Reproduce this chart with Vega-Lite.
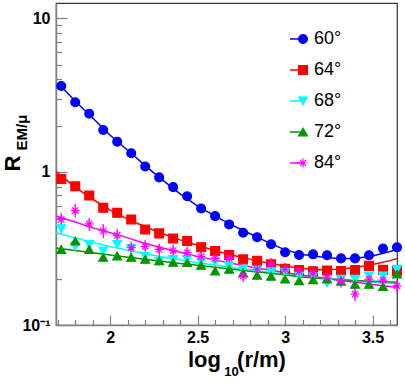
{
  "$schema": "https://vega.github.io/schema/vega-lite/v6.json",
  "width": 341,
  "height": 322,
  "autosize": {"type": "none"},
  "padding": {"left": 56, "top": 3, "right": 8, "bottom": 57},
  "config": {
    "view": {"stroke": "#333333", "strokeWidth": 1.2},
    "font": "Liberation Sans",
    "axis": {
      "grid": false,
      "labelFont": "Liberation Sans",
      "labelFontWeight": "bold",
      "labelFontSize": 16,
      "labelColor": "#000000",
      "titleFont": "Liberation Sans",
      "titleFontWeight": "bold",
      "titleColor": "#000000",
      "domainColor": "#808080",
      "domainWidth": 1.5,
      "tickColor": "#808080",
      "tickWidth": 1.2,
      "labelFlush": false
    }
  },
  "datasets": {
    "pts": [
      {"a": "60°", "x": 1.72, "y": 3.62}, {"a": "60°", "x": 1.80, "y": 2.84}, {"a": "60°", "x": 1.88, "y": 2.39}, {"a": "60°", "x": 1.96, "y": 1.87}, {"a": "60°", "x": 2.04, "y": 1.57},
      {"a": "60°", "x": 2.12, "y": 1.32}, {"a": "60°", "x": 2.20, "y": 1.08}, {"a": "60°", "x": 2.28, "y": 0.918}, {"a": "60°", "x": 2.36, "y": 0.793}, {"a": "60°", "x": 2.44, "y": 0.691},
      {"a": "60°", "x": 2.52, "y": 0.575}, {"a": "60°", "x": 2.60, "y": 0.513}, {"a": "60°", "x": 2.68, "y": 0.453}, {"a": "60°", "x": 2.76, "y": 0.400}, {"a": "60°", "x": 2.84, "y": 0.374},
      {"a": "60°", "x": 2.92, "y": 0.336}, {"a": "60°", "x": 3.00, "y": 0.298}, {"a": "60°", "x": 3.08, "y": 0.286}, {"a": "60°", "x": 3.16, "y": 0.289}, {"a": "60°", "x": 3.24, "y": 0.285},
      {"a": "60°", "x": 3.32, "y": 0.272}, {"a": "60°", "x": 3.40, "y": 0.272}, {"a": "60°", "x": 3.48, "y": 0.285}, {"a": "60°", "x": 3.56, "y": 0.315}, {"a": "60°", "x": 3.64, "y": 0.321},

      {"a": "64°", "x": 1.72, "y": 0.897}, {"a": "64°", "x": 1.80, "y": 0.803}, {"a": "64°", "x": 1.88, "y": 0.699}, {"a": "64°", "x": 1.96, "y": 0.581}, {"a": "64°", "x": 2.04, "y": 0.539},
      {"a": "64°", "x": 2.12, "y": 0.488}, {"a": "64°", "x": 2.20, "y": 0.420}, {"a": "64°", "x": 2.28, "y": 0.396}, {"a": "64°", "x": 2.36, "y": 0.367}, {"a": "64°", "x": 2.44, "y": 0.353},
      {"a": "64°", "x": 2.52, "y": 0.322}, {"a": "64°", "x": 2.60, "y": 0.304}, {"a": "64°", "x": 2.68, "y": 0.286}, {"a": "64°", "x": 2.76, "y": 0.268}, {"a": "64°", "x": 2.84, "y": 0.262},
      {"a": "64°", "x": 2.92, "y": 0.249}, {"a": "64°", "x": 3.00, "y": 0.233}, {"a": "64°", "x": 3.08, "y": 0.228}, {"a": "64°", "x": 3.16, "y": 0.224}, {"a": "64°", "x": 3.24, "y": 0.227},
      {"a": "64°", "x": 3.32, "y": 0.225}, {"a": "64°", "x": 3.40, "y": 0.228}, {"a": "64°", "x": 3.48, "y": 0.243}, {"a": "64°", "x": 3.56, "y": 0.229}, {"a": "64°", "x": 3.64, "y": 0.225},

      {"a": "68°", "x": 1.72, "y": 0.425, "lo": 0.40, "hi": 0.45}, {"a": "68°", "x": 1.80, "y": 0.327, "lo": 0.307, "hi": 0.347}, {"a": "68°", "x": 1.88, "y": 0.336, "lo": 0.316, "hi": 0.356},
      {"a": "68°", "x": 1.96, "y": 0.304, "lo": 0.286, "hi": 0.322}, {"a": "68°", "x": 2.04, "y": 0.336, "lo": 0.316, "hi": 0.356}, {"a": "68°", "x": 2.12, "y": 0.315, "lo": 0.296, "hi": 0.334},
      {"a": "68°", "x": 2.20, "y": 0.281, "lo": 0.264, "hi": 0.298}, {"a": "68°", "x": 2.28, "y": 0.260, "lo": 0.244, "hi": 0.276}, {"a": "68°", "x": 2.36, "y": 0.268, "lo": 0.252, "hi": 0.284},
      {"a": "68°", "x": 2.44, "y": 0.268, "lo": 0.252, "hi": 0.284}, {"a": "68°", "x": 2.52, "y": 0.259, "lo": 0.243, "hi": 0.275}, {"a": "68°", "x": 2.60, "y": 0.259, "lo": 0.243, "hi": 0.275},
      {"a": "68°", "x": 2.68, "y": 0.243, "lo": 0.228, "hi": 0.258}, {"a": "68°", "x": 2.76, "y": 0.231, "lo": 0.217, "hi": 0.245}, {"a": "68°", "x": 2.84, "y": 0.229, "lo": 0.215, "hi": 0.243},
      {"a": "68°", "x": 2.92, "y": 0.224, "lo": 0.210, "hi": 0.238}, {"a": "68°", "x": 3.00, "y": 0.220, "lo": 0.207, "hi": 0.233}, {"a": "68°", "x": 3.08, "y": 0.209, "lo": 0.196, "hi": 0.222},
      {"a": "68°", "x": 3.16, "y": 0.207, "lo": 0.195, "hi": 0.219}, {"a": "68°", "x": 3.24, "y": 0.188, "lo": 0.177, "hi": 0.199}, {"a": "68°", "x": 3.32, "y": 0.199, "lo": 0.187, "hi": 0.211},
      {"a": "68°", "x": 3.40, "y": 0.199, "lo": 0.187, "hi": 0.211}, {"a": "68°", "x": 3.48, "y": 0.209, "lo": 0.196, "hi": 0.222}, {"a": "68°", "x": 3.56, "y": 0.209, "lo": 0.196, "hi": 0.222},
      {"a": "68°", "x": 3.64, "y": 0.231, "lo": 0.217, "hi": 0.245},

      {"a": "72°", "x": 1.72, "y": 0.311, "lo": 0.292, "hi": 0.330}, {"a": "72°", "x": 1.80, "y": 0.353, "lo": 0.332, "hi": 0.374}, {"a": "72°", "x": 1.88, "y": 0.311, "lo": 0.292, "hi": 0.330},
      {"a": "72°", "x": 1.96, "y": 0.276, "lo": 0.259, "hi": 0.293}, {"a": "72°", "x": 2.04, "y": 0.282, "lo": 0.265, "hi": 0.299}, {"a": "72°", "x": 2.12, "y": 0.276, "lo": 0.259, "hi": 0.293},
      {"a": "72°", "x": 2.20, "y": 0.268, "lo": 0.252, "hi": 0.284}, {"a": "72°", "x": 2.28, "y": 0.262, "lo": 0.246, "hi": 0.278}, {"a": "72°", "x": 2.36, "y": 0.256, "lo": 0.241, "hi": 0.271},
      {"a": "72°", "x": 2.44, "y": 0.255, "lo": 0.240, "hi": 0.270}, {"a": "72°", "x": 2.52, "y": 0.245, "lo": 0.230, "hi": 0.260}, {"a": "72°", "x": 2.60, "y": 0.225, "lo": 0.212, "hi": 0.238},
      {"a": "72°", "x": 2.68, "y": 0.231, "lo": 0.217, "hi": 0.245}, {"a": "72°", "x": 2.76, "y": 0.218, "lo": 0.205, "hi": 0.231}, {"a": "72°", "x": 2.84, "y": 0.211, "lo": 0.198, "hi": 0.224},
      {"a": "72°", "x": 2.92, "y": 0.208, "lo": 0.196, "hi": 0.220}, {"a": "72°", "x": 3.00, "y": 0.199, "lo": 0.187, "hi": 0.211}, {"a": "72°", "x": 3.08, "y": 0.194, "lo": 0.182, "hi": 0.206},
      {"a": "72°", "x": 3.16, "y": 0.197, "lo": 0.185, "hi": 0.209}, {"a": "72°", "x": 3.24, "y": 0.199, "lo": 0.187, "hi": 0.211}, {"a": "72°", "x": 3.32, "y": 0.193, "lo": 0.181, "hi": 0.205},
      {"a": "72°", "x": 3.40, "y": 0.184, "lo": 0.173, "hi": 0.195}, {"a": "72°", "x": 3.48, "y": 0.184, "lo": 0.173, "hi": 0.195}, {"a": "72°", "x": 3.56, "y": 0.178, "lo": 0.167, "hi": 0.189},
      {"a": "72°", "x": 3.64, "y": 0.215, "lo": 0.202, "hi": 0.228},

      {"a": "84°", "x": 1.72, "y": 0.488, "lo": 0.44, "hi": 0.54}, {"a": "84°", "x": 1.80, "y": 0.558, "lo": 0.50, "hi": 0.62}, {"a": "84°", "x": 1.88, "y": 0.457, "lo": 0.41, "hi": 0.50},
      {"a": "84°", "x": 1.96, "y": 0.412, "lo": 0.37, "hi": 0.455}, {"a": "84°", "x": 2.04, "y": 0.384, "lo": 0.345, "hi": 0.425}, {"a": "84°", "x": 2.12, "y": 0.320, "lo": 0.29, "hi": 0.35},
      {"a": "84°", "x": 2.20, "y": 0.326, "lo": 0.295, "hi": 0.36}, {"a": "84°", "x": 2.28, "y": 0.311, "lo": 0.28, "hi": 0.34}, {"a": "84°", "x": 2.36, "y": 0.306, "lo": 0.275, "hi": 0.335},
      {"a": "84°", "x": 2.44, "y": 0.297, "lo": 0.27, "hi": 0.325}, {"a": "84°", "x": 2.52, "y": 0.279, "lo": 0.255, "hi": 0.305}, {"a": "84°", "x": 2.60, "y": 0.272, "lo": 0.245, "hi": 0.30},
      {"a": "84°", "x": 2.68, "y": 0.272, "lo": 0.245, "hi": 0.30}, {"a": "84°", "x": 2.76, "y": 0.209, "lo": 0.19, "hi": 0.23}, {"a": "84°", "x": 2.84, "y": 0.231, "lo": 0.21, "hi": 0.255},
      {"a": "84°", "x": 2.92, "y": 0.249, "lo": 0.225, "hi": 0.275}, {"a": "84°", "x": 3.00, "y": 0.231, "lo": 0.21, "hi": 0.255}, {"a": "84°", "x": 3.08, "y": 0.224, "lo": 0.20, "hi": 0.245},
      {"a": "84°", "x": 3.16, "y": 0.218, "lo": 0.195, "hi": 0.24}, {"a": "84°", "x": 3.24, "y": 0.205, "lo": 0.185, "hi": 0.225}, {"a": "84°", "x": 3.32, "y": 0.194, "lo": 0.175, "hi": 0.215},
      {"a": "84°", "x": 3.40, "y": 0.159, "lo": 0.143, "hi": 0.175}, {"a": "84°", "x": 3.48, "y": 0.199, "lo": 0.18, "hi": 0.22}, {"a": "84°", "x": 3.56, "y": 0.196, "lo": 0.176, "hi": 0.216},
      {"a": "84°", "x": 3.64, "y": 0.180, "lo": 0.162, "hi": 0.198}
    ],
    "fit": [
      {"a": "60°", "x": 1.72, "y": 3.60}, {"a": "60°", "x": 1.80, "y": 2.88}, {"a": "60°", "x": 1.90, "y": 2.24}, {"a": "60°", "x": 2.00, "y": 1.73}, {"a": "60°", "x": 2.10, "y": 1.38},
      {"a": "60°", "x": 2.20, "y": 1.096}, {"a": "60°", "x": 2.30, "y": 0.881}, {"a": "60°", "x": 2.40, "y": 0.716}, {"a": "60°", "x": 2.50, "y": 0.596}, {"a": "60°", "x": 2.60, "y": 0.513},
      {"a": "60°", "x": 2.70, "y": 0.447}, {"a": "60°", "x": 2.80, "y": 0.394}, {"a": "60°", "x": 2.90, "y": 0.347}, {"a": "60°", "x": 3.00, "y": 0.309}, {"a": "60°", "x": 3.10, "y": 0.288},
      {"a": "60°", "x": 3.20, "y": 0.279}, {"a": "60°", "x": 3.30, "y": 0.272}, {"a": "60°", "x": 3.40, "y": 0.272}, {"a": "60°", "x": 3.50, "y": 0.282}, {"a": "60°", "x": 3.60, "y": 0.302},
      {"a": "60°", "x": 3.63, "y": 0.309},

      {"a": "64°", "x": 1.69, "y": 1.0}, {"a": "64°", "x": 1.80, "y": 0.794}, {"a": "64°", "x": 1.90, "y": 0.661}, {"a": "64°", "x": 2.00, "y": 0.562}, {"a": "64°", "x": 2.10, "y": 0.490},
      {"a": "64°", "x": 2.20, "y": 0.437}, {"a": "64°", "x": 2.30, "y": 0.394}, {"a": "64°", "x": 2.40, "y": 0.359}, {"a": "64°", "x": 2.50, "y": 0.331}, {"a": "64°", "x": 2.60, "y": 0.305},
      {"a": "64°", "x": 2.70, "y": 0.285}, {"a": "64°", "x": 2.80, "y": 0.269}, {"a": "64°", "x": 2.90, "y": 0.254}, {"a": "64°", "x": 3.00, "y": 0.243}, {"a": "64°", "x": 3.10, "y": 0.234},
      {"a": "64°", "x": 3.20, "y": 0.229}, {"a": "64°", "x": 3.30, "y": 0.231}, {"a": "64°", "x": 3.40, "y": 0.237}, {"a": "64°", "x": 3.50, "y": 0.248}, {"a": "64°", "x": 3.60, "y": 0.263},
      {"a": "64°", "x": 3.64, "y": 0.272},

      {"a": "68°", "x": 1.69, "y": 0.400}, {"a": "68°", "x": 1.80, "y": 0.370}, {"a": "68°", "x": 1.90, "y": 0.345}, {"a": "68°", "x": 2.00, "y": 0.325}, {"a": "68°", "x": 2.10, "y": 0.307},
      {"a": "68°", "x": 2.20, "y": 0.292}, {"a": "68°", "x": 2.30, "y": 0.278}, {"a": "68°", "x": 2.40, "y": 0.266}, {"a": "68°", "x": 2.50, "y": 0.255}, {"a": "68°", "x": 2.60, "y": 0.246},
      {"a": "68°", "x": 2.70, "y": 0.237}, {"a": "68°", "x": 2.80, "y": 0.229}, {"a": "68°", "x": 2.90, "y": 0.222}, {"a": "68°", "x": 3.00, "y": 0.215}, {"a": "68°", "x": 3.10, "y": 0.209},
      {"a": "68°", "x": 3.20, "y": 0.203}, {"a": "68°", "x": 3.30, "y": 0.198}, {"a": "68°", "x": 3.40, "y": 0.194}, {"a": "68°", "x": 3.50, "y": 0.190}, {"a": "68°", "x": 3.60, "y": 0.187},
      {"a": "68°", "x": 3.64, "y": 0.186},

      {"a": "72°", "x": 1.69, "y": 0.318}, {"a": "72°", "x": 1.80, "y": 0.306}, {"a": "72°", "x": 1.90, "y": 0.296}, {"a": "72°", "x": 2.00, "y": 0.286}, {"a": "72°", "x": 2.10, "y": 0.277},
      {"a": "72°", "x": 2.20, "y": 0.268}, {"a": "72°", "x": 2.30, "y": 0.260}, {"a": "72°", "x": 2.40, "y": 0.252}, {"a": "72°", "x": 2.50, "y": 0.245}, {"a": "72°", "x": 2.60, "y": 0.238},
      {"a": "72°", "x": 2.70, "y": 0.231}, {"a": "72°", "x": 2.80, "y": 0.224}, {"a": "72°", "x": 2.90, "y": 0.218}, {"a": "72°", "x": 3.00, "y": 0.212}, {"a": "72°", "x": 3.10, "y": 0.206},
      {"a": "72°", "x": 3.20, "y": 0.201}, {"a": "72°", "x": 3.30, "y": 0.198}, {"a": "72°", "x": 3.40, "y": 0.195}, {"a": "72°", "x": 3.50, "y": 0.193}, {"a": "72°", "x": 3.60, "y": 0.191},
      {"a": "72°", "x": 3.64, "y": 0.190},

      {"a": "84°", "x": 1.69, "y": 0.514}, {"a": "84°", "x": 1.80, "y": 0.470}, {"a": "84°", "x": 1.90, "y": 0.430}, {"a": "84°", "x": 2.00, "y": 0.400}, {"a": "84°", "x": 2.10, "y": 0.370},
      {"a": "84°", "x": 2.20, "y": 0.340}, {"a": "84°", "x": 2.30, "y": 0.318}, {"a": "84°", "x": 2.40, "y": 0.298}, {"a": "84°", "x": 2.50, "y": 0.280}, {"a": "84°", "x": 2.60, "y": 0.265},
      {"a": "84°", "x": 2.70, "y": 0.252}, {"a": "84°", "x": 2.80, "y": 0.240}, {"a": "84°", "x": 2.90, "y": 0.229}, {"a": "84°", "x": 3.00, "y": 0.220}, {"a": "84°", "x": 3.10, "y": 0.211},
      {"a": "84°", "x": 3.20, "y": 0.204}, {"a": "84°", "x": 3.30, "y": 0.196}, {"a": "84°", "x": 3.40, "y": 0.190}, {"a": "84°", "x": 3.50, "y": 0.184}, {"a": "84°", "x": 3.60, "y": 0.178},
      {"a": "84°", "x": 3.64, "y": 0.176}
    ]
  },
  "layer": [
    {
      "data": {"name": "fit"},
      "mark": {"type": "line", "strokeWidth": 1.5, "clip": true},
      "encoding": {
        "x": {
          "field": "x", "type": "quantitative",
          "scale": {"type": "linear", "domain": [1.69, 3.64], "zero": false, "nice": false},
          "axis": {"orient": "bottom", "values": [1.7, 1.8, 1.9, 2.1, 2.2, 2.3, 2.4, 2.6, 2.7, 2.8, 2.9, 3.1, 3.2, 3.3, 3.4, 3.6], "tickSize": -5.5, "labels": false, "domain": false,
                   "title": "10", "titleFontSize": 13, "titleX": 175, "titleY": 50, "titleAlign": "center", "titleBaseline": "alphabetic"}
        },
        "y": {
          "field": "y", "type": "quantitative",
          "scale": {"type": "log", "domain": [0.1, 12.6], "nice": false},
          "axis": {"orient": "left", "values": [0.2, 0.3, 0.4, 0.5, 0.6, 0.7, 0.8, 0.9, 2, 3, 4, 5, 6, 7, 8, 9], "tickSize": -5.5, "labels": false, "domain": false,
                   "title": "EM/μ", "titleFontSize": 15, "titleX": -30, "titleY": 129, "titleAngle": 270, "titleAlign": "center", "titleBaseline": "alphabetic"}
        },
        "color": {
          "field": "a", "type": "nominal",
          "scale": {"range": ["#0000ff", "#ff0000", "#00ffff", "#009600", "#ff00ff"]},
          "legend": {"orient": "none", "legendX": 231.5, "legendY": 27, "title": null, "padding": 0, "symbolType": "stroke", "symbolSize": 169, "symbolStrokeWidth": 1.5, "labelExpr": "''", "labelFontSize": 18, "rowPadding": 13, "labelOffset": 2}
        }
      }
    },
    {
      "data": {"name": "pts"},
      "transform": [{"filter": "isValid(datum.lo)"}],
      "mark": {"type": "rule", "strokeWidth": 1.2},
      "encoding": {
        "x": {"field": "x", "type": "quantitative",
              "axis": {"orient": "bottom", "ticks": false, "labels": false, "domain": false,
                       "title": "(r/m)", "titleFontSize": 22, "titleX": 205, "titleY": 41, "titleAlign": "center", "titleBaseline": "alphabetic"}},
        "y": {"field": "lo", "type": "quantitative", "axis": null},
        "y2": {"field": "hi"},
        "color": {"field": "a", "type": "nominal", "legend": null}
      }
    },
    {
      "data": {"name": "pts"},
      "mark": {"type": "point", "filled": true, "size": 78, "strokeWidth": 1.2, "opacity": 1, "clip": false},
      "encoding": {
        "x": {
          "field": "x", "type": "quantitative",
          "scale": {"type": "linear", "domain": [1.69, 3.64], "zero": false, "nice": false},
          "axis": {"orient": "bottom", "values": [2, 2.5, 3, 3.5], "format": "~g", "tickSize": -10, "labelPadding": 14, "labelFontSize": 16,
                   "title": "log", "titleFontSize": 22, "titleX": 148, "titleY": 41, "titleAlign": "center", "titleBaseline": "alphabetic"}
        },
        "y": {
          "field": "y", "type": "quantitative",
          "scale": {"type": "log", "domain": [0.1, 12.6], "nice": false},
          "axis": {"orient": "left", "values": [0.1, 1, 10], "tickSize": -11, "labelPadding": 17, "labelFontSize": 16,
                   "labelExpr": "datum.value < 0.5 ? '10⁻¹' : (datum.value < 5 ? '1' : '10')",
                   "title": "R", "titleFontSize": 22, "titleX": -37, "titleY": 160, "titleAngle": 270, "titleAlign": "center", "titleBaseline": "alphabetic"}
        },
        "fill": {"field": "a", "type": "nominal", "scale": {"range": ["#0000ff", "#ff0000", "#00ffff", "#009600", "#ff00ff"]},
                 "legend": {"orient": "none", "legendX": 238, "legendY": 27, "title": null, "padding": 0, "symbolSize": 78, "symbolStrokeWidth": 1.2, "labelFontSize": 18, "labelFont": "Liberation Sans", "labelColor": "#000000", "rowPadding": 13, "labelOffset": 2}},
        "stroke": {"field": "a", "type": "nominal", "scale": {"range": ["#0000ff", "#ff0000", "#00ffff", "#009600", "#ff00ff"]}},
        "shape": {"field": "a", "type": "nominal", "scale": {"range": ["circle", "square", "triangle-down", "triangle-up", "M-1,0L1,0M0,-1L0,1M-0.72,-0.72L0.72,0.72M-0.72,0.72L0.72,-0.72"]}}
      }
    }
  ],
  "resolve": {"axis": {"x": "independent", "y": "independent"}}
}
